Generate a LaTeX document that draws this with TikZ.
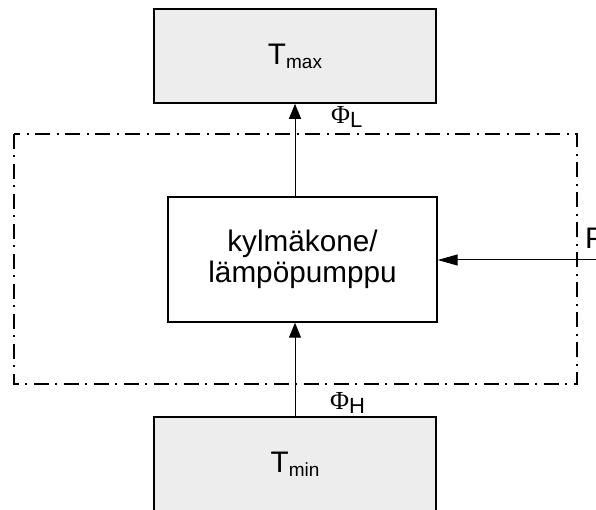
\documentclass[tikz,border=0pt]{standalone}
\usepackage{fontspec}
\setmainfont{Liberation Sans}
\newfontfamily\phifont{Liberation Serif}
\usetikzlibrary{positioning,arrows.meta}

\newcommand{\lowtxt}[2][19]{\raisebox{-4pt}{\fontsize{#1}{#1}\selectfont #2}}

\begin{document}
\begin{tikzpicture}[
    x=1pt, y=-1pt,
    every node/.style={font=\fontsize{29.7}{31}\selectfont, inner sep=0pt},
    tbox/.style={draw, line width=1.6pt, fill=black!7, minimum width=282pt, minimum height=94pt, align=center},
    kbox/.style={draw, line width=1.4pt, fill=white, minimum width=269pt, minimum height=125pt, align=center},
    bound/.style={line width=1.3pt, dash pattern=on 15pt off 6pt on 2pt off 7pt},
    lbl/.style={font=\fontsize{22}{22}\selectfont, anchor=base west},
    arr/.style={-{Triangle[length=15pt, width=12pt]}, line width=1pt},
    harr/.style={-{Triangle[length=20pt, width=11pt]}, line width=1pt}
]
\useasboundingbox (0,0) rectangle (596,510);
\clip (0,0) rectangle (596,510);

% system boundary
\draw[bound] (14,134) rectangle (577,384);

\node[tbox] (tmax) at (295,56) {T\lowtxt{max}};
\node[kbox] (kone) at (302.5,259.5) {kylmäkone/\\lämpöpumppu};
\node[tbox] (tmin) at (295,464) {T\lowtxt{min}};

\coordinate (pin) at (600,260);
\node[anchor=base west] (p) at (585,249) {P};

\node[lbl] (phil) at (331,124) {{\phifont\fontsize{26}{26}\selectfont Φ}\lowtxt[22]{L}};
\node[lbl] (phih) at (330,409) {{\phifont\fontsize{26}{26}\selectfont Φ}\lowtxt[22]{H}};

\draw[arr] (tmin.north -| 295,0) -- (kone.south -| 295,0);
\draw[arr] (kone.north -| 295,0) -- (tmax.south);
\draw[harr] (pin) -- (kone.east |- pin);
\end{tikzpicture}
\end{document}
